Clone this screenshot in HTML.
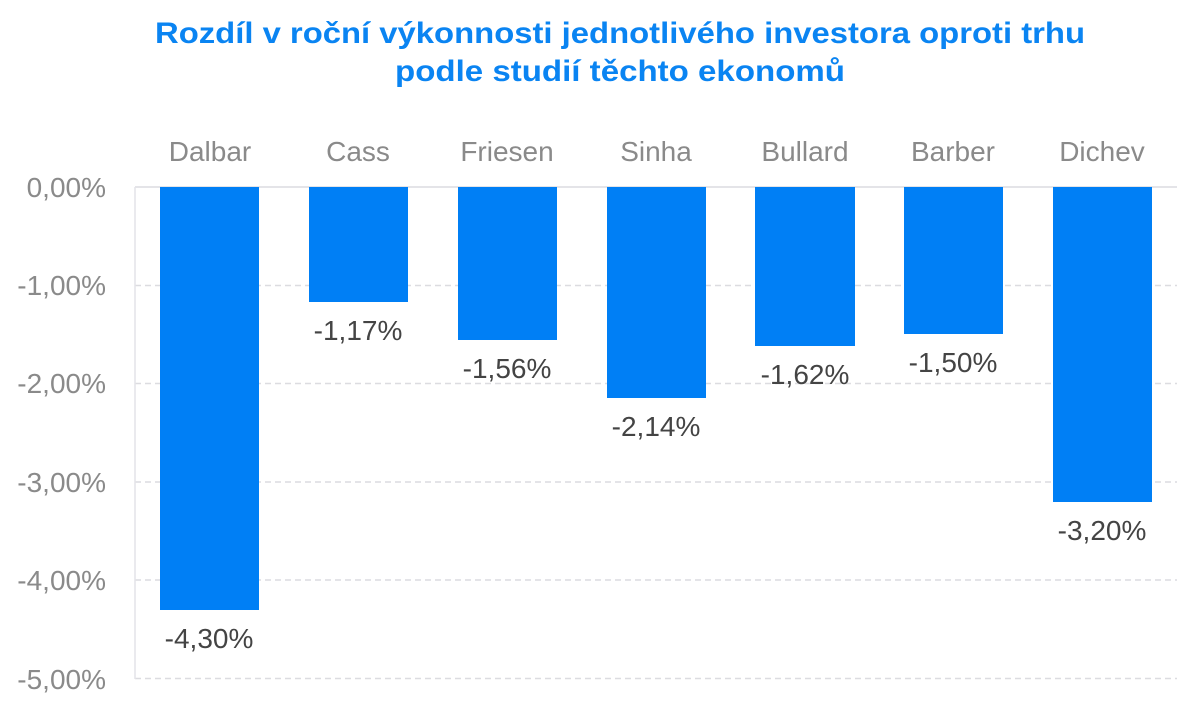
<!DOCTYPE html>
<html><head><meta charset="utf-8"><style>
html,body{margin:0;padding:0;background:#fff;}
svg{display:block;}
</style></head><body>
<svg width="1200" height="706" viewBox="0 0 1200 706" xmlns="http://www.w3.org/2000/svg" font-family="Liberation Sans, sans-serif">
<text x="620" y="43" text-anchor="middle" font-size="30" font-weight="bold" fill="#0a84f2" textLength="930" lengthAdjust="spacingAndGlyphs">Rozdíl v roční výkonnosti jednotlivého investora oproti trhu</text>
<text x="620" y="81" text-anchor="middle" font-size="30" font-weight="bold" fill="#0a84f2" textLength="450" lengthAdjust="spacingAndGlyphs">podle studií těchto ekonomů</text>
<g stroke="#dcdce0" stroke-width="1.5" stroke-dasharray="6,4">
<line x1="135" y1="285.5" x2="1177" y2="285.5"/>
<line x1="135" y1="383.5" x2="1177" y2="383.5"/>
<line x1="135" y1="482" x2="1177" y2="482"/>
<line x1="135" y1="580" x2="1177" y2="580"/>
<line x1="135" y1="678.5" x2="1177" y2="678.5"/>
</g>
<line x1="135" y1="187" x2="1177" y2="187" stroke="#dcdce0" stroke-width="1.5"/>
<line x1="135" y1="187" x2="135" y2="679" stroke="#e4e4e8" stroke-width="1.5"/>
<g fill="#007ff5">
<rect x="160" y="187" width="99" height="423"/>
<rect x="309" y="187" width="99" height="115"/>
<rect x="458" y="187" width="99" height="153"/>
<rect x="607" y="187" width="99" height="211"/>
<rect x="755" y="187" width="100" height="159"/>
<rect x="904" y="187" width="99" height="147"/>
<rect x="1053" y="187" width="99" height="315"/>
</g>
<g font-size="28" fill="#8a8a8a" text-anchor="end">
<text x="106" y="197">0,00%</text>
<text x="106" y="295">-1,00%</text>
<text x="106" y="393">-2,00%</text>
<text x="106" y="492">-3,00%</text>
<text x="106" y="590">-4,00%</text>
<text x="106" y="689">-5,00%</text>
</g>
<g font-size="28" fill="#8a8a8a" text-anchor="middle">
<text x="210" y="161">Dalbar</text>
<text x="358" y="161">Cass</text>
<text x="507" y="161">Friesen</text>
<text x="656" y="161">Sinha</text>
<text x="805" y="161">Bullard</text>
<text x="953" y="161">Barber</text>
<text x="1102" y="161">Dichev</text>
</g>
<g font-size="28" fill="#444" text-anchor="middle">
<text x="209" y="648">-4,30%</text>
<text x="358" y="340">-1,17%</text>
<text x="507" y="378">-1,56%</text>
<text x="656" y="436">-2,14%</text>
<text x="805" y="384">-1,62%</text>
<text x="953" y="372">-1,50%</text>
<text x="1102" y="540">-3,20%</text>
</g>
</svg>
</body></html>
